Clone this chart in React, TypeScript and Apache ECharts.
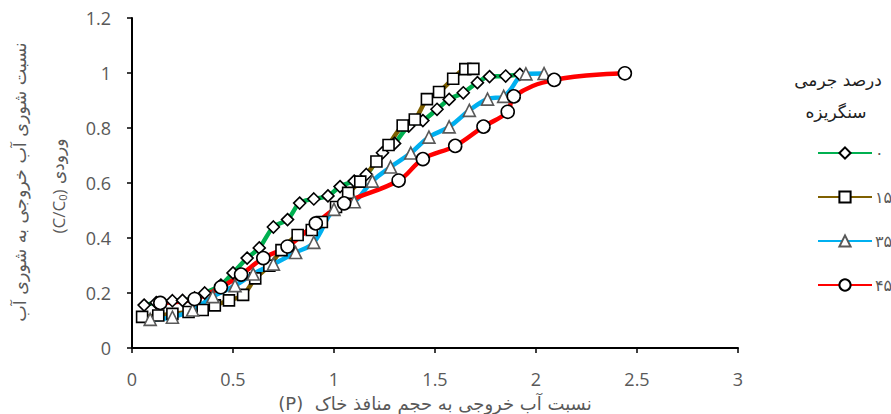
import React, { useEffect, useRef } from "react";
import * as echarts from "echarts";

const seriesNames = ["۰", "۱۵", "۳۵", "۴۵"];

const gravel0X = [0.06, 0.12, 0.2, 0.25, 0.31, 0.36, 0.44, 0.5, 0.57, 0.63, 0.7, 0.77, 0.83, 0.9, 0.97, 1.03, 1.1, 1.16, 1.24, 1.3, 1.37, 1.44, 1.51, 1.57, 1.64, 1.71, 1.77, 1.85, 1.92];
const gravel0Y = [0.156, 0.165, 0.172, 0.173, 0.182, 0.2, 0.229, 0.273, 0.327, 0.364, 0.44, 0.467, 0.527, 0.542, 0.553, 0.587, 0.607, 0.631, 0.71, 0.744, 0.807, 0.827, 0.868, 0.904, 0.928, 0.965, 0.987, 0.989, 0.995];

const gravel15X = [0.05, 0.13, 0.2, 0.28, 0.35, 0.41, 0.48, 0.55, 0.61, 0.68, 0.74, 0.82, 0.89, 0.94, 1.01, 1.07, 1.13, 1.21, 1.27, 1.34, 1.4, 1.46, 1.52, 1.59, 1.65, 1.69];
const gravel15Y = [0.113, 0.118, 0.124, 0.131, 0.138, 0.155, 0.173, 0.193, 0.253, 0.299, 0.356, 0.411, 0.429, 0.458, 0.513, 0.564, 0.605, 0.678, 0.738, 0.809, 0.831, 0.905, 0.931, 0.979, 1.014, 1.015];

const gravel35X = [0.09, 0.2, 0.3, 0.4, 0.51, 0.6, 0.7, 0.81, 0.9, 1.0, 1.1, 1.19, 1.28, 1.38, 1.47, 1.57, 1.67, 1.76, 1.84, 1.95, 2.04];
const gravel35Y = [0.104, 0.112, 0.138, 0.187, 0.227, 0.269, 0.305, 0.347, 0.384, 0.504, 0.532, 0.607, 0.658, 0.709, 0.767, 0.804, 0.864, 0.905, 0.915, 0.997, 0.998];

const gravel45X = [0.14, 0.31, 0.44, 0.54, 0.65, 0.77, 0.91, 1.05, 1.32, 1.44, 1.6, 1.74, 1.86, 1.89, 2.09, 2.44];
const gravel45Y = [0.164, 0.178, 0.221, 0.267, 0.327, 0.369, 0.453, 0.526, 0.609, 0.687, 0.735, 0.805, 0.859, 0.915, 0.975, 0.999];

const xTitle = "(P)  نسبت آب خروجی به حجم منافذ خاک";
const yTitleLine1 = "نسبت شوری آب خروجی به شوری آب";
const yTitleLine2 = "(C/C{s|0}){fa| ورودی}";
const legendTitle1 = "درصد جرمی";
const legendTitle2 = "سنگریزه";

const zip = (xs: number[], ys: number[]) => xs.map((x, i) => [x, ys[i]]);

const numFont = "'Open Sans', 'DejaVu Sans', sans-serif";
const faFont = "'DejaVu Sans', sans-serif";

export default function App() {
  const ref = useRef<HTMLDivElement>(null);
  useEffect(() => {
    if (!ref.current) return;
    const chart = echarts.init(ref.current, undefined, { renderer: "svg" });
    const mk = (
      name: string,
      xs: number[],
      ys: number[],
      color: string,
      symbol: string,
      size: number,
      border: string
    ) => ({
      name,
      type: "line",
      data: zip(xs, ys),
      smooth: 0.4,
      symbol,
      symbolSize: size,
      showAllSymbol: true,
      lineStyle: { color, width: 4.5 },
      itemStyle: { color: "#ffffff", borderColor: border, borderWidth: 1.6 },
    });
    chart.setOption({
      animation: false,
      backgroundColor: "#ffffff",
      grid: { left: 132, right: 153, top: 18, bottom: 66, containLabel: false },
      xAxis: {
        type: "value",
        min: 0,
        max: 3,
        interval: 0.5,
        axisLine: { show: true, lineStyle: { color: "#000000", width: 2 } },
        axisTick: { show: true, length: 5, lineStyle: { color: "#000000", width: 1.5 } },
        splitLine: { show: false },
        axisLabel: { color: "#595959", fontSize: 18, fontFamily: numFont, margin: 22 },
      },
      yAxis: {
        type: "value",
        min: 0,
        max: 1.2,
        interval: 0.2,
        axisLine: { show: true, lineStyle: { color: "#000000", width: 2 } },
        axisTick: { show: true, length: 5, lineStyle: { color: "#000000", width: 1.5 } },
        splitLine: { show: false },
        axisLabel: { color: "#595959", fontSize: 18, fontFamily: numFont, margin: 21 },
      },
      legend: {
        orient: "vertical",
        left: 812,
        top: 140,
        itemWidth: 54,
        itemHeight: 14,
        itemGap: 28,
        textStyle: { color: "#595959", fontSize: 16, fontFamily: faFont, padding: [0, 0, 0, -2] },
        data: seriesNames,
      },
      graphic: [
        {
          type: "text",
          x: 435,
          y: 403,
          style: {
            text: xTitle,
            fill: "#595959",
            font: `18px ${faFont}`,
            align: "center",
            verticalAlign: "middle",
          },
        },
        {
          type: "text",
          x: 20,
          y: 182,
          rotation: Math.PI / 2,
          style: {
            text: yTitleLine1,
            fill: "#595959",
            font: `17.5px ${faFont}`,
            align: "center",
            verticalAlign: "middle",
          },
        },
        {
          type: "text",
          x: 58,
          y: 186,
          rotation: Math.PI / 2,
          style: {
            text: yTitleLine2,
            fill: "#595959",
            fontSize: 17,
            fontFamily: numFont,
            align: "center",
            verticalAlign: "middle",
            rich: {
              s: { fontSize: 11, fontFamily: numFont, fill: "#595959", verticalAlign: "bottom", padding: [8, 0, 0, 0] },
              fa: { fontSize: 17, fontFamily: faFont, fill: "#595959" },
            },
          },
        },
        {
          type: "text",
          x: 838,
          y: 80,
          style: { text: legendTitle1, fill: "#222222", font: `17px ${faFont}`, align: "center", verticalAlign: "middle" },
        },
        {
          type: "text",
          x: 836,
          y: 112,
          style: { text: legendTitle2, fill: "#222222", font: `17px ${faFont}`, align: "center", verticalAlign: "middle" },
        },
      ],
      series: [
        mk(seriesNames[0], gravel0X, gravel0Y, "#00b050", "diamond", 12, "#000000"),
        mk(seriesNames[1], gravel15X, gravel15Y, "#7f6000", "rect", 11, "#000000"),
        mk(seriesNames[2], gravel35X, gravel35Y, "#00b0f0", "triangle", 12, "#595959"),
        mk(seriesNames[3], gravel45X, gravel45Y, "#ff0000", "circle", 13, "#000000"),
      ],
    });
    return () => chart.dispose();
  }, []);
  return <div ref={ref} style={{ width: 891, height: 414, position: "absolute", left: 0, top: 0 }} />;
}
